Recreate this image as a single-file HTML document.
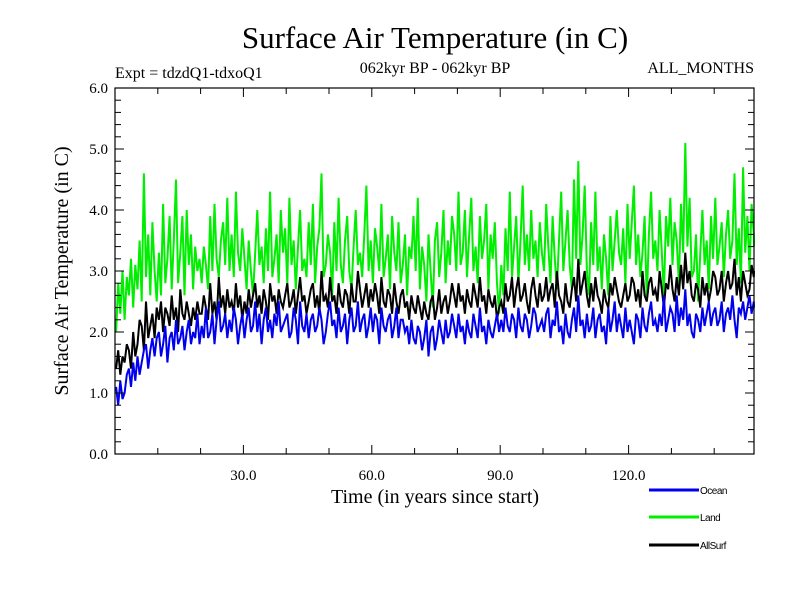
<!DOCTYPE html>
<html><head><meta charset="utf-8"><style>
body{margin:0;background:#fff}
svg text{font-family:"Liberation Serif",serif}
svg text.sans{font-family:"Liberation Sans",sans-serif}
</style></head><body>
<svg id="c" width="800" height="600" viewBox="0 0 800 600">
<text x="435" y="48" font-size="31" text-anchor="middle">Surface Air Temperature (in C)</text>
<text x="115" y="78" font-size="16">Expt = tdzdQ1-tdxoQ1</text>
<text x="435" y="73" font-size="16" text-anchor="middle">062kyr BP - 062kyr BP</text>
<text x="754" y="73" font-size="16" text-anchor="end">ALL_MONTHS</text>
<text x="435" y="503" font-size="20" text-anchor="middle">Time (in years since start)</text>
<text transform="translate(68,271) rotate(-90)" font-size="20" text-anchor="middle">Surface Air Temperature (in C)</text>
<g id="marks"></g>
<g id="axes"></g>
<g id="legend"></g>
</svg>
<script>
const seriesNames=["Land","AllSurf","Ocean"];
const seriesColors=["#00ee00","#000000","#0000ee"];
const xTicks=[30,60,90,120];
const xTickLabels=["30.0","60.0","90.0","120.0"];
const yTicks=[0,1,2,3,4,5,6];
const yTickLabels=["0.0","1.0","2.0","3.0","4.0","5.0","6.0"];
const ocean=[1.1,0.8,1.2,0.9,1.0,1.3,1.4,1.1,1.5,1.2,1.6,1.3,1.5,1.7,1.8,1.4,1.7,1.9,1.6,1.9,
2.0,1.6,1.8,2.1,1.5,1.9,2.0,1.7,2.2,1.8,1.9,2.1,1.7,2.0,2.2,1.8,2.0,1.9,2.3,1.8,
2.1,1.9,2.4,1.9,2.0,2.3,1.8,2.2,2.5,2.0,2.1,2.3,1.9,2.2,2.0,2.4,2.2,1.8,2.1,2.3,
1.9,2.2,2.4,2.0,2.1,2.5,2.0,2.3,1.8,2.2,2.4,2.0,2.2,1.9,2.3,2.1,2.5,2.0,2.1,2.2,
2.3,1.9,2.0,2.4,2.2,1.8,2.5,2.1,2.0,2.3,1.9,2.2,2.3,2.0,2.1,2.4,2.2,1.8,2.0,2.3,
2.5,2.1,2.2,1.9,2.4,2.0,2.1,2.3,1.8,2.2,2.4,2.0,2.1,2.5,2.0,2.2,2.3,1.9,2.1,2.4,
2.0,2.3,2.2,1.8,2.4,2.1,2.0,2.2,2.3,1.9,2.1,2.4,1.9,2.2,2.2,2.0,2.1,1.8,2.2,1.9,
1.8,2.1,2.0,1.7,1.9,2.2,1.6,2.0,2.1,1.7,1.9,2.2,2.0,1.8,2.2,1.9,2.0,2.3,2.1,1.9,
2.3,2.0,2.1,1.8,2.2,2.0,1.9,2.3,2.1,1.9,2.4,2.0,2.1,1.8,2.2,2.0,1.9,2.1,2.3,2.0,
2.2,2.0,2.4,2.1,2.0,2.3,2.2,1.9,2.4,2.1,2.0,2.3,2.2,1.9,2.1,2.4,2.3,2.0,2.1,2.2,
2.0,2.3,2.4,1.9,2.2,2.1,2.5,2.0,2.1,1.8,2.3,2.0,1.9,2.2,2.4,2.0,2.6,2.1,2.2,1.9,
2.3,2.0,2.1,2.4,1.9,2.2,2.3,2.0,2.1,1.8,2.4,2.0,2.2,2.5,2.0,2.3,2.1,1.9,2.4,2.0,
2.2,2.0,1.8,2.3,2.2,1.9,2.4,2.1,2.0,2.3,2.5,2.1,2.2,2.0,2.3,2.1,2.6,2.0,2.2,2.4,
2.3,2.0,2.6,2.1,2.4,2.2,2.7,2.1,2.3,2.0,1.9,2.3,2.2,2.0,2.4,2.1,2.3,2.5,2.1,2.3,
2.4,2.1,2.2,2.5,2.0,2.3,2.4,2.2,2.6,2.2,1.9,2.4,2.3,2.5,2.2,2.4,2.6,2.3,2.5,2.4];
const land=[2.0,2.8,2.3,3.0,2.2,2.9,2.6,3.2,2.4,3.1,2.7,3.5,2.5,4.6,2.9,3.6,2.6,3.8,3.0,2.5,
3.3,2.6,4.1,2.8,3.2,3.9,2.7,3.5,4.5,2.8,3.3,3.9,2.6,4.0,3.1,3.6,2.7,3.4,3.0,3.2,
2.8,3.4,3.1,2.7,3.9,3.0,4.1,3.2,2.9,3.5,3.8,3.1,4.2,3.0,3.6,2.9,4.3,3.3,3.0,3.7,
3.2,2.7,3.5,3.0,2.6,3.3,4.0,3.1,3.4,2.8,3.7,3.0,4.3,2.9,3.2,3.6,2.8,4.0,3.3,3.7,
2.8,4.2,3.1,3.5,2.7,3.4,4.0,3.0,3.2,2.9,3.8,3.1,4.1,2.8,3.4,3.7,4.6,2.9,3.1,3.6,
3.3,2.6,3.8,3.0,4.2,3.1,2.8,3.5,3.9,3.0,2.7,3.4,4.0,3.1,3.3,2.9,3.6,4.4,3.0,3.5,
2.8,3.7,3.4,3.0,4.1,2.9,3.2,3.6,2.7,3.9,3.3,3.0,3.8,2.8,3.1,3.6,2.6,3.4,3.2,3.9,
3.0,4.2,2.7,3.4,3.1,2.5,3.6,3.0,2.4,3.5,3.8,2.9,3.3,4.0,2.8,3.5,3.1,3.9,3.6,3.0,
4.3,3.1,3.3,4.0,2.9,3.6,4.2,3.0,3.4,2.8,3.9,3.2,3.5,4.1,2.7,3.6,3.2,3.8,2.8,2.3,
3.1,2.6,3.7,3.0,4.3,2.9,3.4,3.9,2.8,3.5,4.4,3.1,3.6,3.0,4.0,3.2,3.5,2.9,3.8,3.3,
3.0,4.1,3.4,2.8,3.9,3.2,2.7,3.5,4.3,3.0,3.5,4.0,3.1,2.7,4.5,3.2,4.8,3.1,3.6,4.4,
3.0,2.6,3.8,3.1,4.3,3.0,3.4,2.7,3.6,3.2,2.6,3.9,3.0,3.5,4.0,3.3,3.1,3.7,2.8,4.1,
3.2,3.8,4.4,3.1,3.6,2.9,3.3,3.9,2.5,3.6,4.3,3.2,3.5,3.0,4.0,3.3,2.6,3.9,3.4,4.2,
3.1,3.8,3.5,2.8,4.1,3.3,5.1,3.4,4.2,2.9,3.0,3.6,2.5,3.3,4.0,3.1,3.5,2.7,3.9,3.2,
4.2,3.1,3.4,3.8,2.9,3.6,4.0,3.2,3.5,4.6,3.1,3.7,2.8,4.7,3.3,3.9,3.0,4.1,3.6,3.4];
const allSurf=[1.4,1.7,1.3,1.6,1.5,1.8,1.7,1.4,2.0,1.6,1.8,2.2,2.1,1.7,2.5,1.9,2.1,2.3,1.9,2.4,
2.2,2.5,2.0,2.4,2.3,2.1,2.6,2.2,2.4,2.0,2.7,2.3,2.2,2.5,2.3,2.1,2.4,2.2,2.5,2.3,
2.3,2.6,2.4,2.2,2.8,2.3,2.5,2.2,2.9,2.4,2.6,2.3,2.7,2.4,2.5,2.3,2.8,2.4,2.6,2.2,
2.5,2.3,2.7,2.4,2.6,2.8,2.4,2.6,2.3,2.7,2.5,2.2,2.8,2.5,2.6,2.3,2.7,2.5,2.4,2.6,
2.8,2.4,2.5,2.7,2.3,2.6,2.9,2.5,2.6,2.3,2.5,2.7,2.8,2.4,2.6,2.3,3.0,2.5,2.6,2.4,
2.9,2.5,2.6,2.3,2.8,2.5,2.4,2.7,2.6,2.3,2.8,2.5,2.5,3.0,2.7,2.4,2.6,2.8,2.4,2.7,
2.5,2.8,2.6,2.3,2.9,2.5,2.4,2.7,2.6,2.3,2.8,2.5,2.3,2.6,2.7,2.4,2.5,2.2,2.6,2.4,
2.3,2.6,2.4,2.2,2.5,2.3,2.2,2.5,2.6,2.2,2.4,2.7,2.3,2.5,2.6,2.3,2.5,2.8,2.6,2.4,
2.8,2.5,2.6,2.3,2.7,2.5,2.4,2.8,2.6,2.4,2.9,2.5,2.6,2.3,2.7,2.5,2.4,2.6,2.2,2.4,
2.5,2.3,2.8,2.5,2.6,2.9,2.4,2.7,2.9,2.5,2.6,2.8,2.5,2.3,2.7,2.9,2.6,2.4,2.8,2.5,
2.6,2.9,2.5,2.7,2.8,2.4,3.0,2.6,2.5,2.3,2.8,2.5,2.4,2.7,2.9,2.5,3.2,2.6,2.8,3.0,
2.6,2.4,2.8,2.5,2.9,2.6,2.5,2.3,2.7,2.5,2.4,2.8,2.6,2.9,2.7,2.5,2.4,2.6,2.8,2.5,
2.6,2.9,2.8,2.5,2.7,2.4,3.0,2.6,2.5,2.8,2.9,2.6,2.7,2.5,3.0,2.7,2.4,2.8,2.7,3.1,
2.7,2.5,2.9,2.6,3.1,2.7,3.3,2.8,3.0,2.6,2.5,2.8,2.7,2.4,2.9,2.6,2.8,2.5,2.7,3.0,
2.9,2.6,2.7,3.0,2.5,2.8,3.0,2.7,2.8,3.2,2.6,2.9,2.5,3.0,2.8,2.6,2.7,3.1,2.9,3.0];
const X0=115,X1=754,Y0=454,Y1=88,XMIN=0,XMAX=149.3,YMIN=0,YMAX=6;
const NS='http://www.w3.org/2000/svg';
function sx(v){return X0+(v-XMIN)/(XMAX-XMIN)*(X1-X0);}
function sy(v){return Y0-(v-YMIN)/(YMAX-YMIN)*(Y0-Y1);}
function mk(t,a,p){const e=document.createElementNS(NS,t);for(const k in a)e.setAttribute(k,a[k]);p.appendChild(e);return e;}
const marks=document.getElementById('marks'),axes=document.getElementById('axes'),legend=document.getElementById('legend');
const allData=[land,allSurf,ocean];
allData.forEach((d,si)=>{
  const pts=d.map((v,i)=>sx(Math.min(i*0.5+0.25,XMAX)).toFixed(1)+','+sy(v).toFixed(1)).join(' ');
  const pl=mk('polyline',{points:pts,fill:'none',stroke:seriesColors[si],'stroke-width':2,'stroke-linejoin':'miter'},marks);
  
  
});
const frame=mk('rect',{x:X0,y:Y1,width:X1-X0,height:Y0-Y1,fill:'none',stroke:'#000','stroke-width':1.2},axes);


for(let v=10;v<XMAX;v+=10){const x=sx(v);const L=(v%30===0)?9:6;
  mk('line',{x1:x,y1:Y0,x2:x,y2:Y0-L,stroke:'#000'},axes);mk('line',{x1:x,y1:Y1,x2:x,y2:Y1+L,stroke:'#000'},axes);}
for(let k=1;k<30;k++){const v=k*0.2;const y=sy(v);const L=(k%5===0)?9:6;
  mk('line',{x1:X0,y1:y,x2:X0+L,y2:y,stroke:'#000'},axes);mk('line',{x1:X1,y1:y,x2:X1-L,y2:y,stroke:'#000'},axes);}
xTicks.forEach((v,i)=>{const t=mk('text',{x:sx(v),y:480,'font-size':15,'text-anchor':'middle'},axes);t.textContent=xTickLabels[i];
  
  });
yTicks.forEach((v,i)=>{const t=mk('text',{x:108,y:sy(v)+5,'font-size':15,'text-anchor':'end'},axes);t.textContent=yTickLabels[i];
  
  });
const legOrder=[2,0,1],legY=[490,517,545];
legOrder.forEach((si,j)=>{const g=mk('g',{},legend);
  
  
  mk('line',{x1:649,y1:legY[j],x2:699,y2:legY[j],stroke:seriesColors[si],'stroke-width':3},g);
  const t=mk('text',{x:700,y:legY[j]+4,'font-size':10,'class':'sans','letter-spacing':'-0.5'},g);t.textContent=seriesNames[si];});
</script>
</body></html>
